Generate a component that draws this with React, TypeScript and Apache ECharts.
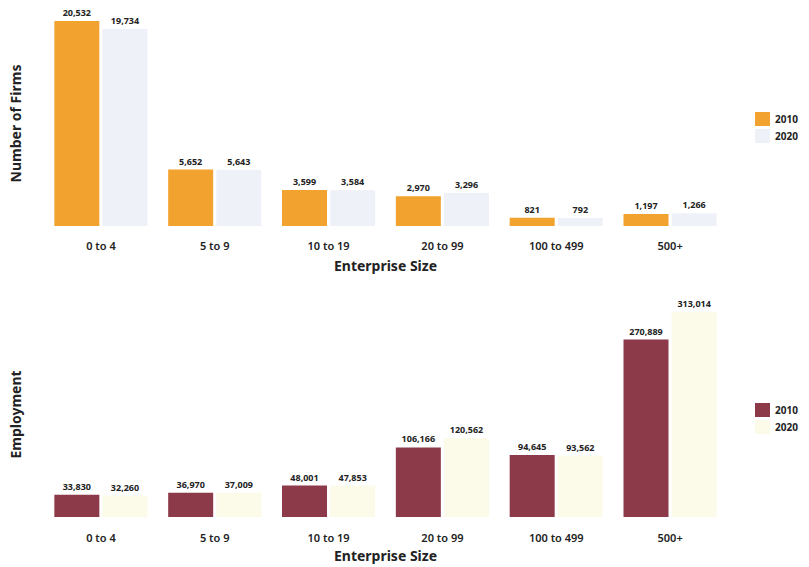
import React, { useEffect, useRef } from "react";
import * as echarts from "echarts";

const categories = ["0 to 4", "5 to 9", "10 to 19", "20 to 99", "100 to 499", "500+"];
const firms2010 = [20532, 5652, 3599, 2970, 821, 1197];
const firms2020 = [19734, 5643, 3584, 3296, 792, 1266];
const emp2010 = [33830, 36970, 48001, 106166, 94645, 270889];
const emp2020 = [32260, 37009, 47853, 120562, 93562, 313014];

const FONT = "Noto Sans";
const fmt = (p: any) => Number(p.value).toLocaleString("en-US");

export default function App() {
  const ref = useRef<HTMLDivElement>(null);
  useEffect(() => {
    document.body.style.margin = "0";
    const chart = echarts.init(ref.current!, undefined, { renderer: "svg" });
    const label = {
      show: true,
      position: "top" as const,
      distance: 4,
      formatter: fmt,
      fontFamily: FONT,
      fontSize: 9,
      fontWeight: "bold" as const,
      color: "#222",
    };
    const xAxisBase = {
      type: "category" as const,
      data: categories,
      axisLine: { show: false },
      axisTick: { show: false },
      axisLabel: { fontFamily: FONT, fontSize: 11, fontWeight: 600, color: "#222" },
      name: "Enterprise Size",
      nameLocation: "middle" as const,
      nameTextStyle: { fontFamily: FONT, fontSize: 14, fontWeight: "bold" as const, color: "#222" },
    };
    const yAxisBase = {
      type: "value" as const,
      min: 0,
      max: "dataMax",
      axisLine: { show: false },
      axisTick: { show: false },
      axisLabel: { show: false },
      splitLine: { show: false },
      nameLocation: "middle" as const,
      nameGap: 22,
      nameTextStyle: { fontFamily: FONT, fontSize: 14, fontWeight: "bold" as const, color: "#222" },
    };
    const legendBase = {
      orient: "vertical" as const,
      left: 755,
      padding: 0,
      icon: "rect",
      itemWidth: 15,
      itemHeight: 14,
      itemGap: 3,
      formatter: (n: string) => n.slice(-4),
      textStyle: { fontFamily: FONT, fontSize: 10, fontWeight: "bold" as const, color: "#222" },
    };
    chart.setOption({
      animation: false,
      backgroundColor: "#ffffff",
      grid: [
        { left: 42, right: 82, top: 21, height: 205 },
        { left: 42, right: 82, top: 312, height: 205 },
      ],
      xAxis: [
        { ...xAxisBase, gridIndex: 0, axisLabel: { ...xAxisBase.axisLabel, margin: 14 }, nameGap: 32 },
        { ...xAxisBase, gridIndex: 1, axisLabel: { ...xAxisBase.axisLabel, margin: 15 }, nameGap: 31 },
      ],
      yAxis: [
        { ...yAxisBase, gridIndex: 0, name: "Number of Firms" },
        { ...yAxisBase, gridIndex: 1, name: "Employment" },
      ],
      legend: [
        { ...legendBase, top: 112, data: ["Firms 2010", "Firms 2020"] },
        { ...legendBase, top: 403, data: ["Employment 2010", "Employment 2020"] },
      ],
      series: [
        {
          name: "Firms 2010", type: "bar", xAxisIndex: 0, yAxisIndex: 0, data: firms2010,
          barWidth: 45, barGap: "7%", itemStyle: { color: "#F2A22E" }, label,
        },
        {
          name: "Firms 2020", type: "bar", xAxisIndex: 0, yAxisIndex: 0, data: firms2020,
          barWidth: 45, barGap: "7%", itemStyle: { color: "#EEF1F7" }, label,
        },
        {
          name: "Employment 2010", type: "bar", xAxisIndex: 1, yAxisIndex: 1, data: emp2010,
          barWidth: 45, barGap: "7%", itemStyle: { color: "#8C3A4A" }, label,
        },
        {
          name: "Employment 2020", type: "bar", xAxisIndex: 1, yAxisIndex: 1, data: emp2020,
          barWidth: 45, barGap: "7%", itemStyle: { color: "#FCFAE8" }, label,
        },
      ],
    });
    return () => chart.dispose();
  }, []);
  return <div ref={ref} style={{ width: 809, height: 567 }} />;
}
